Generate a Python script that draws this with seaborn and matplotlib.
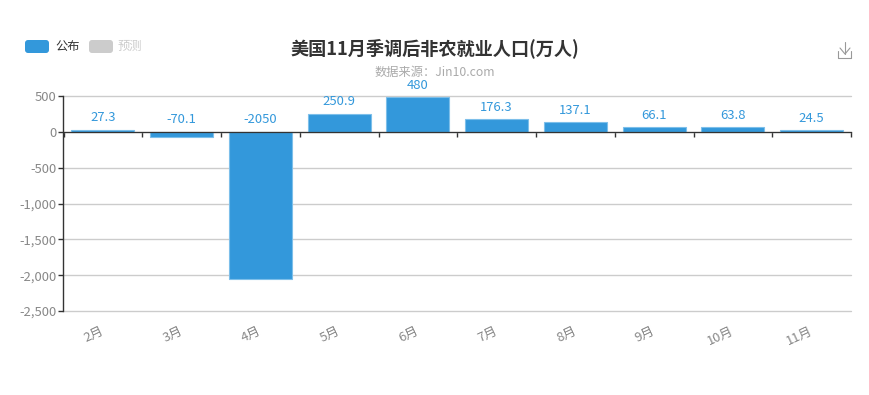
import matplotlib
matplotlib.use('Agg')
import matplotlib.pyplot as plt
import seaborn as sns
import pandas as pd
from matplotlib.lines import Line2D
from matplotlib.patches import FancyBboxPatch

months = ['2月', '3月', '4月', '5月', '6月', '7月', '8月', '9月', '10月', '11月']
values = [27.3, -70.1, -2050, 250.9, 480, 176.3, 137.1, 66.1, 63.8, 24.5]
y_ticks = [500, 0, -500, -1000, -1500, -2000, -2500]
y_labels = ['500', '0', '-500', '-1,000', '-1,500', '-2,000', '-2,500']
title = '美国11月季调后非农就业人口(万人)'
subtitle = '数据来源：Jin10.com'
legend_names = ['公布', '预测']

BLUE = '#3398DB'
W, H = 870, 395

sns.set_theme(style='white')
plt.rcParams['font.family'] = ['Noto Sans CJK SC', 'DejaVu Sans']

df = pd.DataFrame({'month': months, 'value': values})

fig = plt.figure(figsize=(W / 100, H / 100), dpi=100)
ax = fig.add_axes([63.5 / W, 1 - 311 / H, 787.5 / W, 215 / H])

sns.barplot(data=df, x='month', y='value', color=BLUE, saturation=1, width=0.8,
            edgecolor='#7DBFEA', linewidth=0.8, ax=ax, zorder=2)

ax.set_xlim(-0.5, 9.5)
ax.set_ylim(-2500, 500)
ax.set_xlabel('')
ax.set_ylabel('')

ax.set_yticks(y_ticks)
ax.set_yticklabels(y_labels)
ax.grid(axis='y', color='#CCCCCC', linewidth=1, zorder=0)
ax.grid(axis='x', visible=False)
for line in ax.get_ygridlines():
    line.set_clip_on(False)
ax.tick_params(axis='y', length=3.6, width=1, color='#333333', labelcolor='#888888',
               labelsize=9.4, pad=1.5, left=True)

# x axis sits on zero, labels stay below the plot
for s in ['top', 'right']:
    ax.spines[s].set_visible(False)
ax.spines['left'].set_color('#333333')
ax.spines['left'].set_linewidth(1)
ax.spines['bottom'].set_position(('data', 0))
ax.spines['bottom'].set_color('#333333')
ax.spines['bottom'].set_linewidth(0.9)
ax.spines['bottom'].set_zorder(5)

ax.set_xticks([i - 0.5 for i in range(len(months) + 1)], minor=True)
ax.tick_params(axis='x', which='minor', length=3.6, width=1, color='#333333', bottom=True)
ax.tick_params(axis='x', which='major', length=0, pad=143, labelcolor='#888888', labelsize=9.4)
plt.setp(ax.get_xticklabels(), rotation=25, ha='right', va='center', rotation_mode='anchor')

for i, v in enumerate(values):
    ax.annotate(f'{v:g}', xy=(i, max(v, 0)), xytext=(0, 8.6), textcoords='offset points',
                ha='center', va='center', color=BLUE, fontsize=9.4, zorder=6, annotation_clip=False)

fig.text(434.5 / W, 1 - 48 / H, title, ha='center', va='center', fontsize=13.1,
         fontweight='bold', color='#333333')
fig.text(435 / W, 1 - 72.5 / H, subtitle, ha='center', va='center', fontsize=8.8, color='#AAAAAA')

# legend
for x0, name, fc, tc, tx in [(25, legend_names[0], BLUE, '#333333', 55),
                             (89, legend_names[1], '#CCCCCC', '#CCCCCC', 118)]:
    fig.add_artist(FancyBboxPatch((x0, H - 53), 24, 13, boxstyle='round,pad=0,rounding_size=3',
                                  transform=None, fc=fc, ec='none'))
    fig.text(tx / W, 1 - 46 / H, name, ha='left', va='center', fontsize=8.8, color=tc)

# download icon
icon_x = [[838.5, 838.5, 851.5, 851.5], [845, 845], [840, 845, 850]]
icon_y = [[51, 57.5, 57.5, 51], [42, 54], [48, 54, 48]]
for xs, ys in zip(icon_x, icon_y):
    fig.add_artist(Line2D([x / W for x in xs], [1 - y / H for y in ys], color='#999999', lw=0.8))

fig.savefig('out.png', dpi=100)
